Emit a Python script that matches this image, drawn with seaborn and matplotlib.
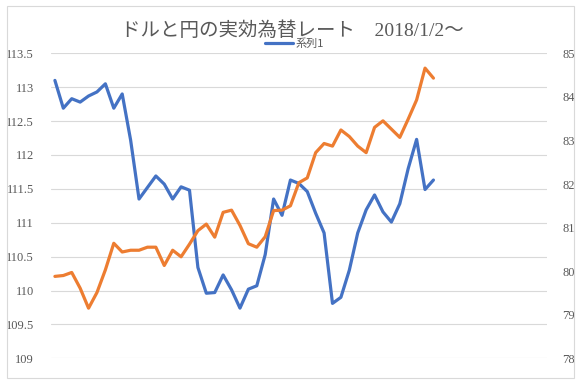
import numpy as np
import pandas as pd
import matplotlib
matplotlib.use('Agg')
import matplotlib.pyplot as plt
from matplotlib.patches import Rectangle
import seaborn as sns

# values (weekly points, left / right axis)
series1 = [113.10, 112.69, 112.83, 112.78, 112.87, 112.93, 113.05, 112.69, 112.90, 112.22,
           111.35, 111.52, 111.69, 111.57, 111.35, 111.53, 111.48, 110.34, 109.96, 109.97,
           110.23, 110.01, 109.74, 110.02, 110.07, 110.53, 111.35, 111.11, 111.63, 111.58,
           111.46, 111.14, 110.85, 109.81, 109.90, 110.30, 110.85, 111.19, 111.41, 111.16,
           111.01, 111.28, 111.80, 112.23, 111.49, 111.63]
series2 = [79.88, 79.90, 79.97, 79.61, 79.15, 79.51, 80.03, 80.64, 80.44, 80.48,
           80.48, 80.55, 80.55, 80.13, 80.48, 80.33, 80.62, 80.93, 81.08, 80.78,
           81.35, 81.40, 81.05, 80.63, 80.55, 80.79, 81.39, 81.40, 81.50, 82.03,
           82.14, 82.72, 82.93, 82.87, 83.24, 83.09, 82.87, 82.72, 83.30, 83.45,
           83.26, 83.07, 83.49, 83.93, 84.66, 84.43]
n_categories = 59  # the category axis has empty rows after the data
left_ticks = [109, 109.5, 110, 110.5, 111, 111.5, 112, 112.5, 113, 113.5]
right_ticks = [78, 79, 80, 81, 82, 83, 84, 85]
title = 'ドルと円の実効為替レート\u30002018/1/2〜'
legend_label = '系列1'

df = pd.DataFrame({'idx': np.arange(len(series1)), 's1': series1, 's2': series2})

sns.set_style('white')
plt.rcParams['font.family'] = ['Liberation Serif', 'Noto Sans CJK JP']

grey = '#595959'
blue = '#4472C4'
orange = '#ED7D31'

fig = plt.figure(figsize=(5.85, 3.9), dpi=100)
ax = fig.add_axes([50.7 / 585, 1 - 358.3 / 390, (547 - 50.7) / 585, (358.3 - 53.3) / 390])
ax2 = ax.twinx()

sns.lineplot(data=df, x='idx', y='s1', ax=ax, color=blue, linewidth=2.3, label=legend_label)
sns.lineplot(data=df, x='idx', y='s2', ax=ax2, color=orange, linewidth=2.3, legend=False)

ax.set_xlim(-0.5, n_categories - 0.5)
ax.set_ylim(109, 113.5)
ax2.set_ylim(78, 85)
ax.set_yticks(left_ticks)
ax.set_yticklabels([f'{v:g}' for v in left_ticks])
ax2.set_yticks(right_ticks)
ax2.set_yticklabels([str(v) for v in right_ticks])
ax.set_xticks([])
ax.set_xlabel('')
ax.set_ylabel('')
ax2.set_ylabel('')

ax.yaxis.grid(True, color='#d9d9d9', linewidth=0.8)
ax.xaxis.grid(False)
ax2.grid(False)
for a in (ax, ax2):
    for s in a.spines.values():
        s.set_visible(False)
ax.tick_params(axis='y', length=0, pad=12, labelsize=9, labelcolor=grey)
ax2.tick_params(axis='y', length=0, pad=11, labelsize=9, labelcolor=grey)

fig.text(292.5 / 585, 1 - 30.5 / 390, title, ha='center', va='center',
         fontsize=14, color=grey)

ax.legend(loc='center', bbox_to_anchor=(294 / 585, 1 - 44 / 390), bbox_transform=fig.transFigure,
          frameon=False, handlelength=2.6, handletextpad=0.15, borderpad=0,
          prop={'family': ['Noto Sans CJK JP'], 'size': 8}, labelcolor=grey)

# chart area border
fig.patches.append(Rectangle((7 / 585, 1 - 378 / 390), 567 / 585, 372 / 390,
                             transform=fig.transFigure, fill=False,
                             edgecolor='#d9d9d9', linewidth=0.8))

plt.savefig('out.png', dpi=100)
